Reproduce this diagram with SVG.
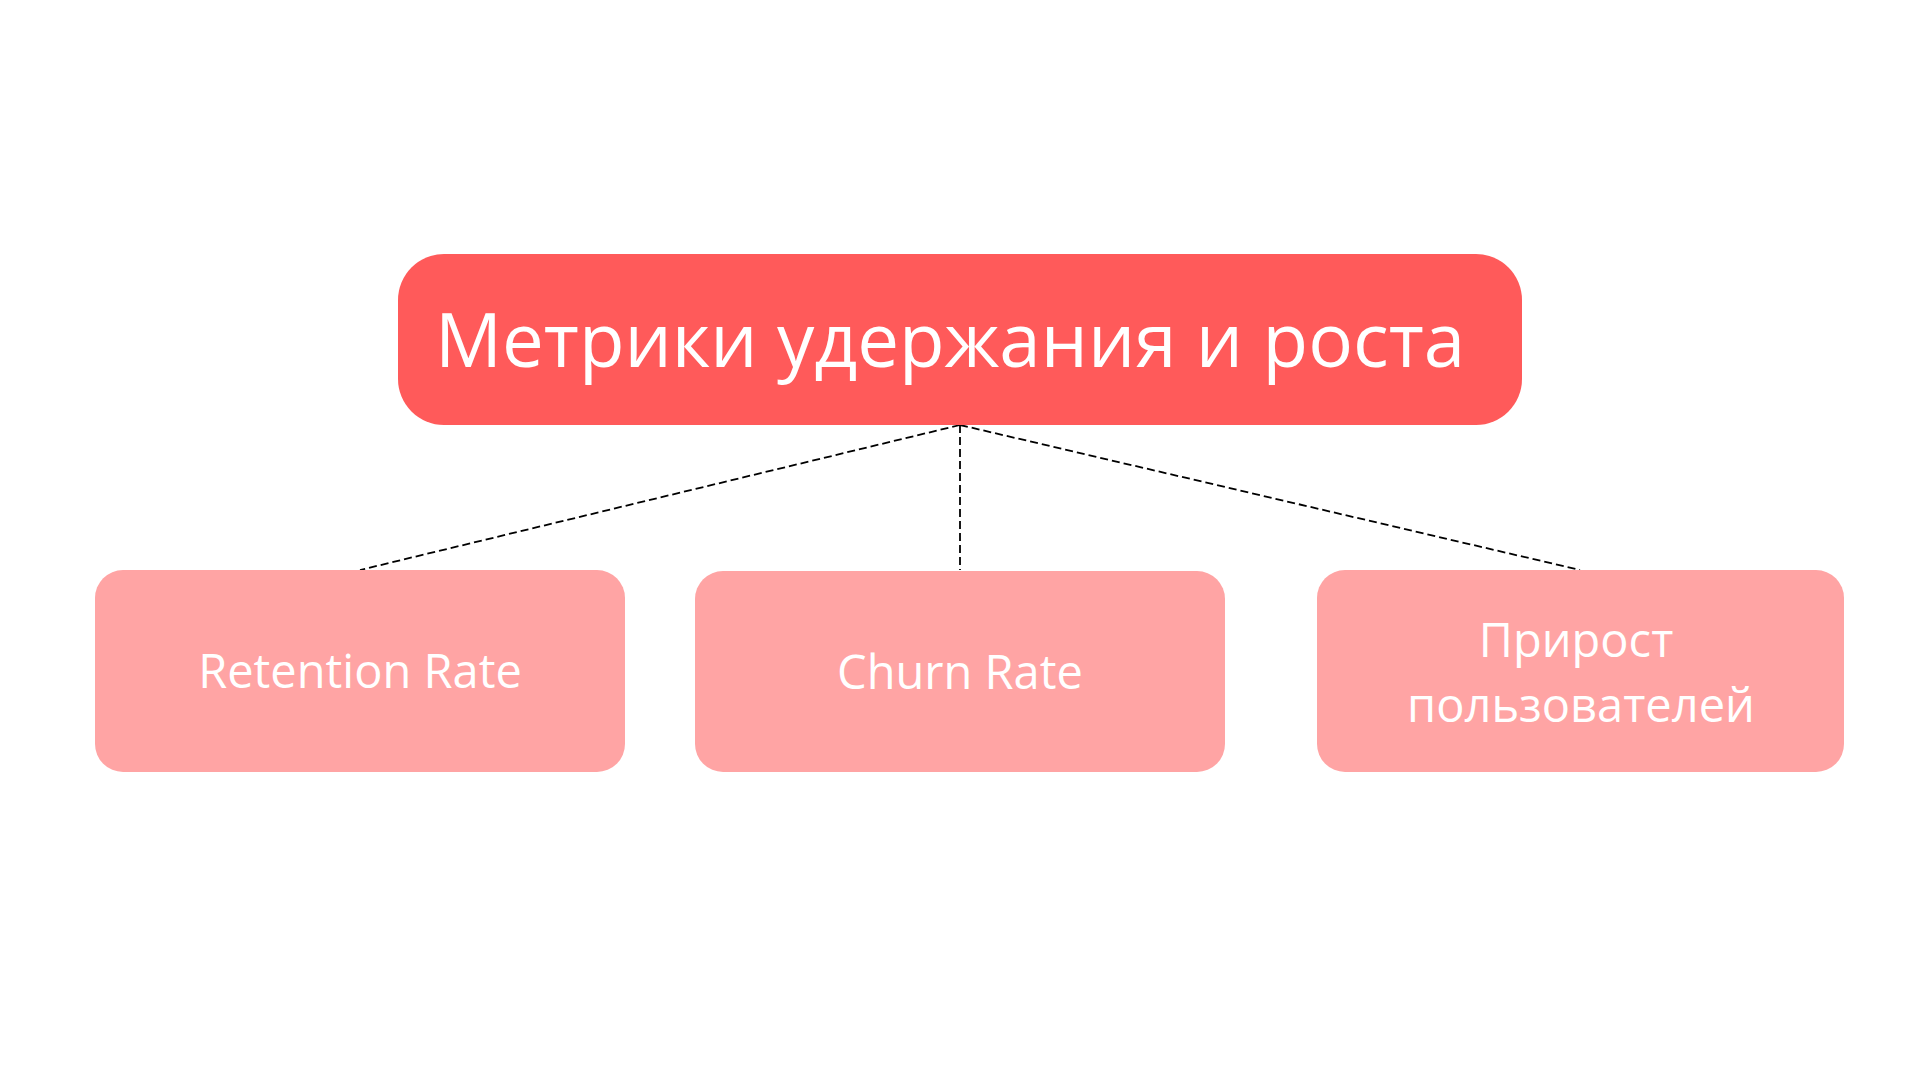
<svg xmlns="http://www.w3.org/2000/svg" width="1920" height="1080" viewBox="0 0 1920 1080">
<style>
.root{fill:#FF5A5A}
.child{fill:#FFA4A4}
.t{font-family:"Open Sans","Noto Sans","DejaVu Sans",sans-serif;fill:#FFFFFF}
.big{font-size:74.5px}
.small{font-size:47px}
.conn{stroke:#000000;stroke-width:1.8;stroke-dasharray:8 4;fill:none}
</style>
<rect width="1920" height="1080" fill="#FFFFFF"/>
<g id="connectors">
<line class="conn" x1="960" y1="425" x2="360" y2="570"/>
<line class="conn" x1="960" y1="425" x2="960" y2="570"/>
<line class="conn" x1="960" y1="425" x2="1580" y2="570"/>
</g>
<g id="node-root">
<rect class="root" x="398" y="254" width="1124" height="171" rx="46" ry="46"/>
<text class="t big" x="435" y="367">Метрики удержания и роста</text>
</g>
<g id="node-retention">
<rect class="child" x="95" y="570" width="530" height="202" rx="28" ry="28"/>
<text class="t small" x="360" y="688" text-anchor="middle">Retention Rate</text>
</g>
<g id="node-churn">
<rect class="child" x="695" y="571" width="530" height="201" rx="28" ry="28"/>
<text class="t small" x="960" y="689" text-anchor="middle">Churn Rate</text>
</g>
<g id="node-growth">
<rect class="child" x="1317" y="570" width="527" height="202" rx="28" ry="28"/>
<text class="t small" x="1576" y="657" text-anchor="middle">Прирост</text>
<text class="t small" x="1581" y="722" text-anchor="middle">пользователей</text>
</g>
</svg>
